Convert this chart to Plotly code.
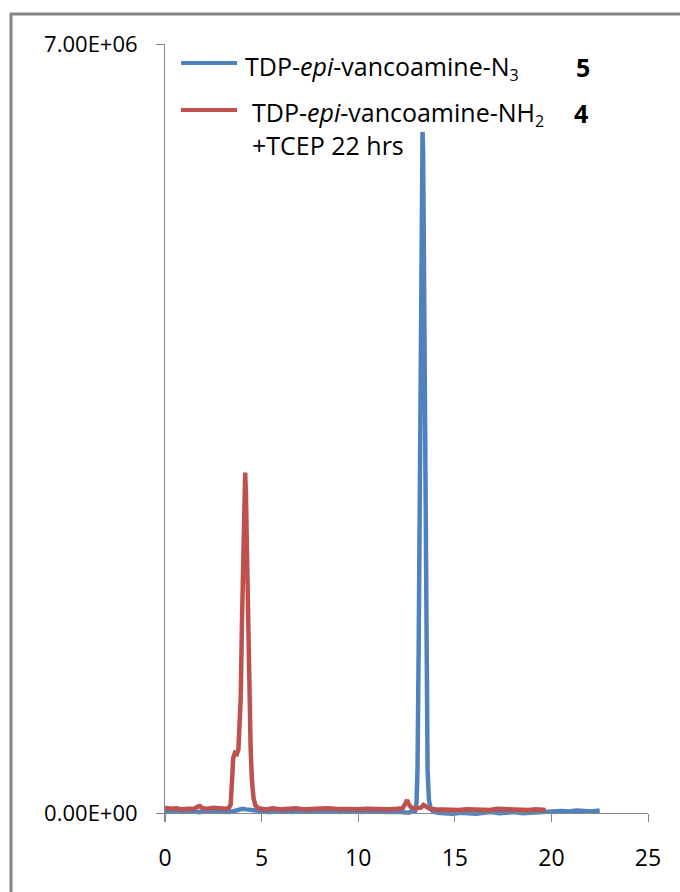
import plotly.graph_objects as go

# ---------------- data ----------------
blue_name = "TDP-epi-vancoamine-N3 (5)"
blue_t = [0.0, 0.3, 0.6, 0.9, 1.2, 1.5, 1.8, 2.1, 2.4, 2.7, 3.0, 3.3, 3.6, 3.8, 4.0, 4.2,
          4.4, 4.7, 5.0, 5.4, 5.8, 6.2, 6.6, 7.0, 7.4, 7.8, 8.2, 8.6, 9.0, 9.4, 9.8, 10.2,
          10.6, 11.0, 11.4, 11.8, 12.2, 12.6, 12.8, 12.95, 13.02, 13.07, 13.13, 13.20,
          13.26, 13.30, 13.33, 13.36, 13.40, 13.46, 13.53, 13.59, 13.66, 13.75, 13.85,
          14.1, 14.5, 14.9, 15.3, 15.7, 16.1, 16.5, 16.9, 17.3, 17.7, 18.1, 18.5, 18.9,
          19.3, 19.7, 20.1, 20.5, 20.9, 21.3, 21.7, 22.1, 22.5]
blue_v = [0.02e6, 0.015e6, 0.02e6, 0.01e6, 0.02e6, 0.015e6, 0.01e6, 0.02e6, 0.015e6,
          0.01e6, 0.015e6, 0.01e6, 0.02e6, 0.035e6, 0.04e6, 0.035e6, 0.03e6, 0.02e6,
          0.015e6, 0.01e6, 0.02e6, 0.015e6, 0.01e6, 0.02e6, 0.015e6, 0.01e6, 0.015e6,
          0.02e6, 0.01e6, 0.015e6, 0.02e6, 0.01e6, 0.015e6, 0.02e6, 0.01e6, 0.015e6,
          0.01e6, 0.005e6, 0.01e6, 0.02e6, 0.1e6, 0.4e6, 1.5e6, 3.1e6, 5.0e6, 5.95e6,
          6.2e6, 6.0e6, 5.1e6, 3.1e6, 1.2e6, 0.4e6, 0.12e6, 0.04e6, 0.02e6, 0.005e6,
          0.0, -0.005e6, 0.005e6, 0.0, -0.005e6, 0.005e6, 0.01e6, 0.0, 0.005e6, 0.01e6,
          0.0, 0.005e6, 0.01e6, 0.005e6, 0.015e6, 0.02e6, 0.015e6, 0.025e6, 0.02e6,
          0.015e6, 0.025e6]

red_name = "TDP-epi-vancoamine-NH2 (4) +TCEP 22 hrs"
red_t = [0.0, 0.3, 0.6, 0.9, 1.2, 1.5, 1.7, 1.8, 1.95, 2.2, 2.5, 2.8, 3.1, 3.3, 3.40,
         3.47, 3.53, 3.62, 3.72, 3.80, 3.86, 3.92, 3.98, 4.04, 4.09, 4.12, 4.15, 4.19,
         4.25, 4.31, 4.37, 4.43, 4.50, 4.58, 4.68, 4.85, 5.2, 5.6, 6.0, 6.4, 6.8, 7.2,
         7.6, 8.0, 8.4, 8.8, 9.2, 9.6, 10.0, 10.4, 10.8, 11.2, 11.6, 12.0, 12.3, 12.45,
         12.53, 12.62, 12.75, 13.0, 13.25, 13.38, 13.5, 13.7, 14.0, 14.4, 14.8, 15.2,
         15.6, 16.0, 16.4, 16.8, 17.2, 17.6, 18.0, 18.4, 18.8, 19.2, 19.7]
red_v = [0.05e6, 0.04e6, 0.045e6, 0.035e6, 0.04e6, 0.04e6, 0.06e6, 0.065e6, 0.045e6,
         0.04e6, 0.05e6, 0.04e6, 0.04e6, 0.045e6, 0.08e6, 0.3e6, 0.5e6, 0.55e6, 0.54e6,
         0.58e6, 0.75e6, 1.05e6, 1.7e6, 2.4e6, 2.9e6, 3.08e6, 3.1e6, 2.9e6, 2.3e6,
         1.6e6, 1.0e6, 0.6e6, 0.3e6, 0.14e6, 0.07e6, 0.045e6, 0.035e6, 0.045e6,
         0.035e6, 0.04e6, 0.045e6, 0.035e6, 0.04e6, 0.035e6, 0.045e6, 0.04e6, 0.035e6,
         0.04e6, 0.035e6, 0.04e6, 0.035e6, 0.04e6, 0.035e6, 0.04e6, 0.045e6, 0.09e6,
         0.12e6, 0.08e6, 0.05e6, 0.045e6, 0.05e6, 0.075e6, 0.06e6, 0.04e6, 0.035e6,
         0.03e6, 0.035e6, 0.03e6, 0.035e6, 0.03e6, 0.035e6, 0.03e6, 0.04e6, 0.035e6,
         0.03e6, 0.035e6, 0.03e6, 0.035e6, 0.03e6]

y_tickvals = [0, 7e6]
y_ticktext = ["0.00E+00", "7.00E+06"]
x_tickvals = [0, 5, 10, 15, 20, 25]
x_ticktext = ["0", "5", "10", "15", "20", "25"]

legend_blue_label = "TDP-<i>epi</i>-vancoamine-N<sub><span style='font-size:16px'>3</span></sub>"
legend_blue_num = "<b>5</b>"
legend_red_label = "TDP-<i>epi</i>-vancoamine-NH<sub><span style='font-size:16px'>2</span></sub>"
legend_red_num = "<b>4</b>"
legend_red_line2 = "+TCEP 22 hrs"

# ---------------- style / layout ----------------
BLUE = "#4F81BD"
RED = "#C0504D"
GRAY = "#868686"
FONT = "Open Sans"

W, H = 680, 892
ML, MR, MT, MB = 165, 32, 44, 70
PW, PH = W - ML - MR, H - MT - MB
Y_LO, Y_HI = -0.08e6, 7e6


def px(xp):
    return (xp - ML) / PW


def py(yp):
    return (H - MB - yp) / PH


fig = go.Figure()
fig.add_trace(go.Scatter(x=blue_t, y=blue_v, mode="lines", name=blue_name,
                         line=dict(color=BLUE, width=4.5), showlegend=False))
fig.add_trace(go.Scatter(x=red_t, y=red_v, mode="lines", name=red_name,
                         line=dict(color=RED, width=4.5), showlegend=False))

shapes = [
    # outer chart frame
    dict(type="rect", xref="paper", yref="paper", x0=px(11), x1=px(720),
         y0=py(930), y1=py(14), line=dict(color=GRAY, width=3), layer="below"),
    # legend samples
    dict(type="line", xref="paper", yref="paper", x0=px(181), x1=px(237),
         y0=py(63), y1=py(63), line=dict(color=BLUE, width=4)),
    dict(type="line", xref="paper", yref="paper", x0=px(181), x1=px(237),
         y0=py(110), y1=py(110), line=dict(color=RED, width=4)),
]


def ann(text, xp, yp, size=25):
    return dict(text=text, xref="paper", yref="paper", x=px(xp), y=py(yp),
                xanchor="left", yanchor="middle", showarrow=False, align="left",
                font=dict(family=FONT, size=size, color="black"))


annotations = [
    ann(legend_blue_label, 243, 67),
    ann(legend_blue_num, 574, 67),
    ann(legend_red_label, 250, 113),
    ann(legend_red_num, 572, 113),
    ann(legend_red_line2, 250, 145),
]

fig.update_layout(
    width=W, height=H,
    margin=dict(l=ML, r=MR, t=MT, b=MB, pad=0),
    paper_bgcolor="white", plot_bgcolor="white",
    shapes=shapes, annotations=annotations,
    showlegend=False,
    xaxis=dict(range=[0, 25], tickvals=x_tickvals, ticktext=x_ticktext,
               anchor="free", position=(0 - Y_LO) / (Y_HI - Y_LO),
               showline=True, linecolor=GRAY, linewidth=1,
               ticks="outside", ticklen=8, tickcolor=GRAY, tickwidth=1,
               showgrid=False, zeroline=False, ticklabelstandoff=16,
               tickfont=dict(family=FONT, size=23, color="black")),
    yaxis=dict(range=[Y_LO, Y_HI], tickvals=y_tickvals, ticktext=y_ticktext,
               showline=True, linecolor=GRAY, linewidth=1,
               ticks="outside", ticklen=8, tickcolor=GRAY, tickwidth=1,
               showgrid=False, zeroline=False, ticklabelstandoff=14,
               tickfont=dict(family=FONT, size=22, color="black")),
)

fig.write_html("out.html")
